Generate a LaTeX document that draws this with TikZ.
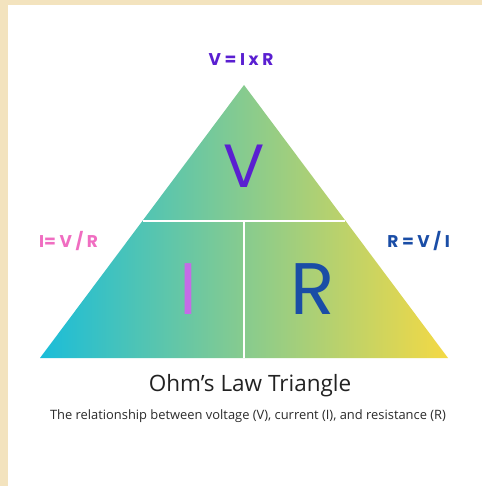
\documentclass[tikz,border=0pt]{standalone}
\usepackage{fontspec}
\setmainfont{Open Sans}
\newfontfamily\popfont{Poppins}
\definecolor{beige}{HTML}{F3E3BE}
\definecolor{cyanc}{HTML}{1ABDD9}
\definecolor{greenc}{HTML}{84CC96}
\definecolor{yellowc}{HTML}{F4D944}
\definecolor{purplec}{HTML}{5A1FD1}
\definecolor{violetc}{HTML}{C56BE6}
\definecolor{bluec}{HTML}{1A4DA6}
\definecolor{pinkc}{HTML}{F06DC1}
\definecolor{darkc}{HTML}{222222}
\definecolor{greyc}{HTML}{2B2B2B}
\tikzset{
  formula/.style={font=\popfont\bfseries\fontsize{17}{20}\selectfont, inner sep=0pt},
  bigletter/.style={font=\popfont\fontsize{#1}{#1}\selectfont, inner sep=0pt},
  divider/.style={white, line width=2pt},
}
\begin{document}
\begin{tikzpicture}[x=1pt,y=-1pt]
\useasboundingbox (0,0) rectangle (482,486);
\fill[beige] (0,0) rectangle (482,486);
\fill[white] (8,5) rectangle (482,486);
% triangle
\coordinate (A) at (244,85);
\coordinate (B) at (40,358);
\coordinate (C) at (448,358);
\shade[left color=cyanc, middle color=greenc, right color=yellowc] (B) -- (A) -- (C) -- cycle;
\coordinate (hl) at (143,221);
\coordinate (hr) at (345,221);
\coordinate (vt) at (244,221);
\coordinate (vb) at (244,358);
\draw[divider] (hl) -- (hr);
\draw[divider] (vt) -- (vb);
% letters
\node[bigletter=61, text=purplec] (V) at (244,166) {V};
\node[bigletter=73, text=violetc] (I) at (188,289) {I};
\node[bigletter=73, text=bluec] (R) at (313,289) {R};
% formulas
\node[formula, text=purplec] (top) at (241,60) {V = I x R};
\node[formula, text=pinkc, anchor=west] (left) at (39,241) {I= V / R};
\node[formula, text=bluec, anchor=east] (right) at (450,241) {R = V / I};
% titles
\node[font=\fontsize{22.5}{26}\selectfont, text=darkc, inner sep=0pt] (title) at (250,386) {Ohm’s Law Triangle};
\node[font=\fontsize{12.9}{15}\selectfont, text=greyc, inner sep=0pt] (sub) at (248,416) {The relationship between voltage (V), current (I), and resistance (R)};
\end{tikzpicture}
\end{document}
